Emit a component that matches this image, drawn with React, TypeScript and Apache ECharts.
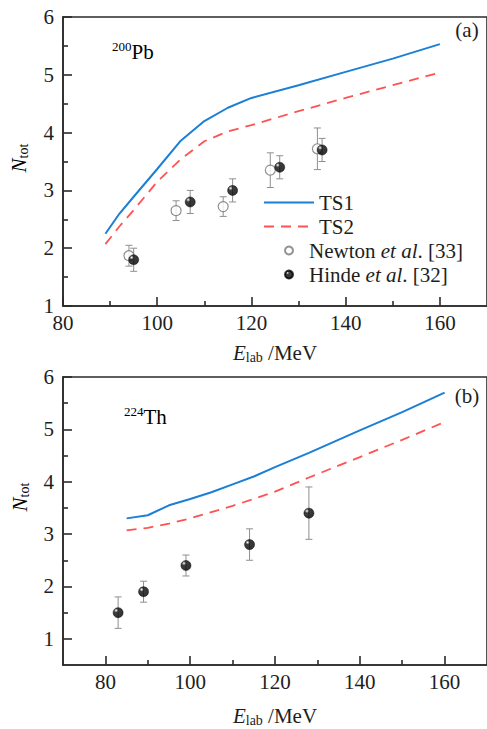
import React, { useEffect, useRef } from 'react';
import * as echarts from 'echarts';

const FONT = 'Liberation Serif';

// ---------- Panel (a): 200Pb ----------
const aTS1X = [89, 92, 95, 100, 105, 110, 115, 120, 130, 140, 150, 160];
const aTS1Y = [2.25, 2.6, 2.89, 3.37, 3.86, 4.2, 4.43, 4.6, 4.82, 5.05, 5.28, 5.53];
const aTS2X = [89, 92, 95, 100, 105, 110, 115, 120, 130, 140, 150, 160];
const aTS2Y = [2.07, 2.38, 2.66, 3.15, 3.54, 3.85, 4.02, 4.13, 4.37, 4.6, 4.82, 5.04];
const aNewtonX = [94, 104, 114, 124, 134];
const aNewtonY = [1.87, 2.65, 2.72, 3.35, 3.72];
const aNewtonErr = [0.18, 0.17, 0.17, 0.3, 0.36];
const aHindeX = [95, 107, 116, 126, 135];
const aHindeY = [1.8, 2.8, 3.0, 3.4, 3.7];
const aHindeErr = [0.2, 0.2, 0.2, 0.2, 0.2];

// ---------- Panel (b): 224Th ----------
const bTS1X = [85, 90, 95, 100, 105, 110, 115, 120, 128, 140, 150, 160];
const bTS1Y = [3.3, 3.36, 3.55, 3.67, 3.8, 3.95, 4.1, 4.28, 4.55, 4.98, 5.33, 5.7];
const bTS2X = [85, 90, 95, 100, 105, 110, 115, 120, 128, 140, 150, 160];
const bTS2Y = [3.07, 3.12, 3.2, 3.3, 3.42, 3.54, 3.67, 3.81, 4.08, 4.47, 4.8, 5.14];
const bHindeX = [83, 89, 99, 114, 128];
const bHindeY = [1.5, 1.9, 2.4, 2.8, 3.4];
const bHindeErr = [0.3, 0.2, 0.2, 0.3, 0.5];

// ---------- Ticks ----------
const aXLabels = [80, 100, 120, 140, 160];
const aXMajor = [80, 100, 120, 140, 160];
const aXMinor = [90, 110, 130, 150];
const aYLabels = [1, 2, 3, 4, 5, 6];
const aYMinor = [1.5, 2.5, 3.5, 4.5, 5.5];
const bXLabels = [80, 100, 120, 140, 160];
const bXMajor = [80, 100, 120, 140, 160];
const bXMinor = [90, 110, 130, 150];
const bYLabels = [1, 2, 3, 4, 5, 6];
const bYMinor = [1.5, 2.5, 3.5, 4.5, 5.5];

const LEGEND_LINES = ['TS1', 'TS2'];
const LEGEND_POINTS = ['Newton et al. [33]', 'Hinde et al. [32]'];

const BLUE = '#1b7fd6';
const RED = '#ff5252';
const AXIS = '#2b2b2b';
const TEXT = '#1e1e1e';

const pts = (xs: number[], ys: number[]) => xs.map((x, i) => [x, ys[i]]);
const errs = (xs: number[], ys: number[], e: number[]) =>
  xs.map((x, i) => [x, ys[i], ys[i] - e[i], ys[i] + e[i]]);

const errRender = (params: any, api: any) => {
  const x = api.value(0);
  const top = api.coord([x, api.value(3)]);
  const bot = api.coord([x, api.value(2)]);
  const c = 3.5;
  const st = { stroke: '#8f8f8f', lineWidth: 1 };
  return {
    type: 'group',
    children: [
      { type: 'line', shape: { x1: top[0], y1: top[1], x2: bot[0], y2: bot[1] }, style: st },
      { type: 'line', shape: { x1: top[0] - c, y1: top[1], x2: top[0] + c, y2: top[1] }, style: st },
      { type: 'line', shape: { x1: bot[0] - c, y1: bot[1], x2: bot[0] + c, y2: bot[1] }, style: st },
    ],
  };
};

const xName = '{i|E}{sub|lab}{n| /MeV}';
const nameRich = {
  i: { fontFamily: FONT, fontSize: 21, fontStyle: 'italic', color: TEXT, verticalAlign: 'top', lineHeight: 22 },
  n: { fontFamily: FONT, fontSize: 21, color: TEXT, verticalAlign: 'top', lineHeight: 22 },
  sub: { fontFamily: FONT, fontSize: 14, color: TEXT, verticalAlign: 'bottom', lineHeight: 16, padding: [10, 0, 0, 0] },
};

const mainX = (grid: number, min: number, max: number, labels: number[], major: number[], gap: number) => ({
  type: 'value',
  gridIndex: grid,
  min,
  max,
  position: 'bottom',
  name: xName,
  nameLocation: 'middle',
  nameGap: gap,
  nameTextStyle: { fontFamily: FONT, fontSize: 21, color: TEXT, rich: nameRich },
  axisLine: { show: true, onZero: false, lineStyle: { color: AXIS, width: 1.6 } },
  axisTick: { show: true, inside: true, length: 9, customValues: major, lineStyle: { color: AXIS, width: 1.6 } },
  axisLabel: { show: true, customValues: labels, fontFamily: FONT, fontSize: 21, color: TEXT, margin: 6 },
  splitLine: { show: false },
});
const minorX = (grid: number, min: number, max: number, minor: number[]) => ({
  type: 'value',
  gridIndex: grid,
  min,
  max,
  position: 'bottom',
  axisLine: { show: false, onZero: false },
  axisTick: { show: true, inside: true, length: 5, customValues: minor, lineStyle: { color: AXIS, width: 1.6 } },
  axisLabel: { show: false },
  splitLine: { show: false },
});
const mainY = (grid: number, min: number, max: number, labels: number[]) => ({
  type: 'value',
  gridIndex: grid,
  min,
  max,
  position: 'left',
  axisLine: { show: true, onZero: false, lineStyle: { color: AXIS, width: 1.6 } },
  axisTick: { show: true, inside: true, length: 9, customValues: labels, lineStyle: { color: AXIS, width: 1.6 } },
  axisLabel: { show: true, customValues: labels, fontFamily: FONT, fontSize: 21, color: TEXT, margin: 9 },
  splitLine: { show: false },
});
const minorY = (grid: number, min: number, max: number, minor: number[]) => ({
  type: 'value',
  gridIndex: grid,
  min,
  max,
  position: 'left',
  axisLine: { show: false, onZero: false },
  axisTick: { show: true, inside: true, length: 5, customValues: minor, lineStyle: { color: AXIS, width: 1.6 } },
  axisLabel: { show: false },
  splitLine: { show: false },
});

export default function App() {
  const ref = useRef<HTMLDivElement>(null);
  useEffect(() => {
    document.body.style.margin = '0';
    if (!ref.current) return;
    const chart = echarts.init(ref.current, undefined, { renderer: 'svg' });

    const hindeColor = new echarts.graphic.RadialGradient(0.3, 0.28, 0.75, [
      { offset: 0, color: '#ffffff' },
      { offset: 0.1, color: '#a8a8a8' },
      { offset: 0.28, color: '#0d0d0d' },
      { offset: 1, color: '#000000' },
    ]);
    const newtonStyle = { color: '#ffffff', borderColor: '#777777', borderWidth: 1.2 };
    const hindeStyle = { color: hindeColor, borderColor: '#000', borderWidth: 0.6 };

    const supRich = {
      sup: { fontFamily: FONT, fontSize: 13, color: TEXT, verticalAlign: 'top', lineHeight: 14, padding: [0, 0, 12, 0] },
      m: { fontFamily: FONT, fontSize: 21, color: TEXT, verticalAlign: 'bottom', lineHeight: 22 },
    };
    const nRich = {
      i: { fontFamily: FONT, fontSize: 21, fontStyle: 'italic', color: TEXT, verticalAlign: 'top', lineHeight: 22 },
      sub: { fontFamily: FONT, fontSize: 14, color: TEXT, verticalAlign: 'bottom', lineHeight: 16, padding: [10, 0, 0, 0] },
    };
    const legendText = {
      fontFamily: FONT,
      fontSize: 21,
      color: TEXT,
      rich: {
        it: { fontFamily: FONT, fontSize: 21, fontStyle: 'italic', color: TEXT },
        r: { fontFamily: FONT, fontSize: 21, color: TEXT },
      },
    };

    const option: any = {
      animation: false,
      backgroundColor: '#ffffff',
      textStyle: { fontFamily: FONT },
      grid: [
        { left: 63, top: 17, width: 427.5, height: 289, show: true, borderColor: AXIS, borderWidth: 1.6, backgroundColor: 'transparent' },
        { left: 63, top: 377, width: 426.5, height: 288, show: true, borderColor: AXIS, borderWidth: 1.6, backgroundColor: 'transparent' },
      ],
      xAxis: [
        mainX(0, 80, 170, aXLabels, aXMajor, 36),
        minorX(0, 80, 170, aXMinor),
        mainX(1, 70, 170, bXLabels, bXMajor, 40),
        minorX(1, 70, 170, bXMinor),
      ],
      yAxis: [
        mainY(0, 1, 6, aYLabels),
        minorY(0, 1, 6, aYMinor),
        mainY(1, 0.5, 6, bYLabels),
        minorY(1, 0.5, 6, bYMinor),
      ],
      legend: [
        {
          data: LEGEND_LINES,
          orient: 'vertical',
          left: 263,
          top: 192,
          padding: 0,
          itemWidth: 50,
          itemHeight: 14,
          itemGap: 3,
          itemStyle: { color: 'transparent', borderColor: 'transparent', borderWidth: 0, opacity: 0 },
          formatter: (name: string) => `{r|${name}}`,
          textStyle: legendText,
        },
        {
          data: LEGEND_POINTS,
          orient: 'vertical',
          left: 284,
          top: 240,
          padding: 0,
          itemWidth: 30,
          itemHeight: 8,
          itemGap: 3,
          formatter: (name: string) => {
            const [a, b] = name.split('et al');
            return `{r|${a}}{it|et al}{r|${b}}`;
          },
          textStyle: legendText,
        },
      ],
      graphic: [
        { type: 'text', x: 467, y: 30, style: { text: '(a)', fontFamily: FONT, fontSize: 21, fill: TEXT, textAlign: 'center', verticalAlign: 'middle' } },
        { type: 'text', x: 467, y: 396, style: { text: '(b)', fontFamily: FONT, fontSize: 21, fill: TEXT, textAlign: 'center', verticalAlign: 'middle' } },
        { type: 'text', x: 112, y: 40, style: { text: '{sup|200}{m|Pb}', rich: supRich, textAlign: 'left', verticalAlign: 'top' } },
        { type: 'text', x: 124, y: 405, style: { text: '{sup|224}{m|Th}', rich: supRich, textAlign: 'left', verticalAlign: 'top' } },
        { type: 'text', x: 19, y: 158, rotation: Math.PI / 2, style: { text: '{i|N}{sub|tot}', rich: nRich, textAlign: 'center', verticalAlign: 'middle' } },
        { type: 'text', x: 20, y: 497, rotation: Math.PI / 2, style: { text: '{i|N}{sub|tot}', rich: nRich, textAlign: 'center', verticalAlign: 'middle' } },
      ],
      series: [
        // panel (a)
        { name: 'TS1', type: 'line', xAxisIndex: 0, yAxisIndex: 0, data: pts(aTS1X, aTS1Y), symbol: 'none', showSymbol: false, lineStyle: { color: BLUE, width: 2 }, itemStyle: { color: BLUE }, z: 3 },
        { name: 'TS2', type: 'line', xAxisIndex: 0, yAxisIndex: 0, data: pts(aTS2X, aTS2Y), symbol: 'none', showSymbol: false, lineStyle: { color: RED, width: 1.8, type: [10, 7] }, itemStyle: { color: RED }, z: 3 },
        { name: 'Newton err (a)', type: 'custom', xAxisIndex: 0, yAxisIndex: 0, renderItem: errRender, data: errs(aNewtonX, aNewtonY, aNewtonErr), encode: { x: 0, y: 1 }, z: 2 },
        { name: 'Hinde err (a)', type: 'custom', xAxisIndex: 0, yAxisIndex: 0, renderItem: errRender, data: errs(aHindeX, aHindeY, aHindeErr), encode: { x: 0, y: 1 }, z: 2 },
        { name: 'Newton et al. [33]', type: 'scatter', xAxisIndex: 0, yAxisIndex: 0, data: pts(aNewtonX, aNewtonY), symbol: 'circle', symbolSize: 10, itemStyle: newtonStyle, z: 4 },
        { name: 'Hinde et al. [32]', type: 'scatter', xAxisIndex: 0, yAxisIndex: 0, data: pts(aHindeX, aHindeY), symbol: 'circle', symbolSize: 10, itemStyle: hindeStyle, z: 4 },
        // panel (b)
        { name: 'TS1', type: 'line', xAxisIndex: 2, yAxisIndex: 2, data: pts(bTS1X, bTS1Y), symbol: 'none', showSymbol: false, lineStyle: { color: BLUE, width: 2 }, itemStyle: { color: BLUE }, z: 3 },
        { name: 'TS2', type: 'line', xAxisIndex: 2, yAxisIndex: 2, data: pts(bTS2X, bTS2Y), symbol: 'none', showSymbol: false, lineStyle: { color: RED, width: 1.8, type: [10, 7] }, itemStyle: { color: RED }, z: 3 },
        { name: 'Hinde err (b)', type: 'custom', xAxisIndex: 2, yAxisIndex: 2, renderItem: errRender, data: errs(bHindeX, bHindeY, bHindeErr), encode: { x: 0, y: 1 }, z: 2 },
        { name: 'Hinde et al. [32]', type: 'scatter', xAxisIndex: 2, yAxisIndex: 2, data: pts(bHindeX, bHindeY), symbol: 'circle', symbolSize: 10, itemStyle: hindeStyle, z: 4 },
      ],
    };
    chart.setOption(option);
    return () => chart.dispose();
  }, []);
  return <div ref={ref} style={{ width: 487, height: 729 }} />;
}
